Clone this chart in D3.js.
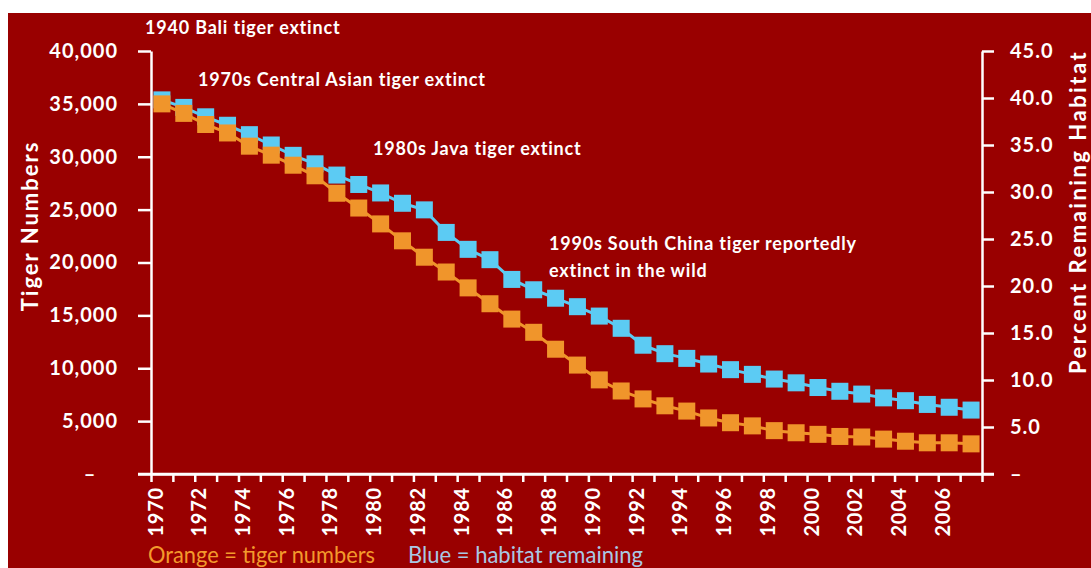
<!DOCTYPE html>
<html>
<head>
<meta charset="utf-8">
<script src="https://cdn.jsdelivr.net/npm/d3@7"></script>
<style>
  html, body { margin: 0; padding: 0; background: #ffffff; }
  svg { display: block; }
  .tick text { font-family: Lato, "Open Sans", sans-serif; font-weight: 700; fill: #ffffff; }
</style>
</head>
<body>
<svg id="chart" width="1091" height="568"></svg>
<script>
// Years on the category axis (one marker per year)
const years = d3.range(1970, 2008);

// Wild tiger numbers (left axis)
const tigerNumbers = [
  35000, 34100, 33050, 32250, 31000, 30150, 29200, 28200, 26550, 25150,
  23650, 22050, 20500, 19100, 17600, 16100, 14650, 13400, 11800, 10300,
  8900, 7850, 7100, 6450, 5950, 5300, 4850, 4550, 4100, 3900,
  3750, 3550, 3500, 3300, 3100, 2950, 2950, 2850
];

// Percent of habitat remaining (right axis)
const habitatRemaining = [
  39.8, 39.0, 38.0, 37.1, 36.1, 35.0, 33.9, 33.0, 31.8, 30.8,
  29.9, 28.8, 28.1, 25.7, 23.9, 22.8, 20.7, 19.6, 18.7, 17.8,
  16.8, 15.5, 13.7, 12.8, 12.3, 11.7, 11.1, 10.6, 10.1, 9.7,
  9.2, 8.8, 8.5, 8.1, 7.8, 7.4, 7.1, 6.8
];

// Tick values
const leftTicks = [0, 5000, 10000, 15000, 20000, 25000, 30000, 35000, 40000];
const rightTicks = [0, 5, 10, 15, 20, 25, 30, 35, 40, 45];
const yearTicks = d3.range(1970, 2009);
const yearLabels = d3.range(1970, 2007, 2);

// Extinction notes
const notes = [
  ["1940 Bali tiger extinct"],
  ["1970s Central Asian tiger extinct"],
  ["1980s Java tiger extinct"],
  ["1990s South China tiger reportedly", "extinct in the wild"]
];
const notePos = [[145, 34], [198, 86], [373, 155], [549, 250]];

const legendItems = ["Orange = tiger numbers", "Blue = habitat remaining"];

const W = 1091, H = 568;
const BG = "#990000", ORANGE = "#f0952b", BLUE = "#5ccbf3";
const FONT = "Lato, sans-serif";
const svg = d3.select("#chart");

// Panel
svg.append("rect").attr("x", 8).attr("y", 13).attr("width", W - 8).attr("height", H - 13).attr("fill", BG);

const x = d3.scaleLinear().domain([1970, 2008]).range([151, 982]);
const yL = d3.scaleLinear().domain([0, 40000]).range([474, 51]);
const yR = d3.scaleLinear().domain([0, 45]).range([474, 51]);

const fmtL = d => d === 0 ? "–" : d3.format(",")(d);
const fmtR = d => d === 0 ? "–" : d3.format(".1f")(d);

// Left axis
const gL = svg.append("g").attr("transform", `translate(${x.range()[0]},0)`)
  .call(d3.axisLeft(yL).tickValues(leftTicks).tickSize(13).tickSizeOuter(0).tickPadding(20).tickFormat(fmtL));
gL.selectAll("text").style("font-size", "20px").style("letter-spacing", "1px");
gL.selectAll(".tick").filter(d => d === 0).select("text").attr("text-anchor", "middle").attr("x", -61);

// Right axis
const gR = svg.append("g").attr("transform", `translate(${x.range()[1]},0)`)
  .call(d3.axisRight(yR).tickValues(rightTicks).tickSize(12).tickSizeOuter(0).tickPadding(16).tickFormat(fmtR));
gR.selectAll("text").style("font-size", "20px").style("letter-spacing", "1px");

// Bottom axis
const gX = svg.append("g").attr("transform", `translate(0,${yL(0)})`)
  .call(d3.axisBottom(x).tickValues(yearTicks).tickSize(8).tickSizeOuter(0)
    .tickFormat(d => yearLabels.includes(d) ? d : ""));
gX.selectAll("text")
  .style("font-size", "20px").style("letter-spacing", "0.8px")
  .attr("transform", "rotate(-90)")
  .attr("text-anchor", "end")
  .attr("x", -13).attr("y", 4).attr("dy", "0.35em");

// Base line joining the two zero ticks
svg.append("line").attr("class", "base")
  .attr("x1", x.range()[0] - 13).attr("x2", x.range()[1] + 12)
  .attr("y1", yL(0)).attr("y2", yL(0))
  .attr("stroke", "#ffffff").attr("stroke-width", 2.5);

[gL, gR, gX].forEach(g => {
  g.selectAll("path, line").attr("stroke", "#ffffff").attr("stroke-width", 2.5);
});

// Series: habitat underneath, tiger numbers on top
const cx = i => x(years[i] + 0.5);
const M = 17;

function drawSeries(values, yScale, color) {
  const g = svg.append("g");
  g.append("path")
    .datum(values)
    .attr("fill", "none").attr("stroke", color).attr("stroke-width", 3)
    .attr("d", d3.line().x((d, i) => cx(i)).y(d => yScale(d)));
  g.selectAll("rect").data(values).join("rect")
    .attr("x", (d, i) => cx(i) - M / 2)
    .attr("y", d => yScale(d) - M / 2)
    .attr("width", M).attr("height", M)
    .attr("fill", color);
}
drawSeries(habitatRemaining, yR, BLUE);
drawSeries(tigerNumbers, yL, ORANGE);

// Axis titles
svg.append("text")
  .attr("transform", "translate(38,226) rotate(-90)")
  .attr("text-anchor", "middle")
  .style("font-family", FONT).style("font-weight", 700).style("font-size", "22px")
  .style("letter-spacing", "2px")
  .attr("fill", "#ffffff").text("Tiger Numbers");
svg.append("text")
  .attr("transform", "translate(1086,212) rotate(-90)")
  .attr("text-anchor", "middle")
  .style("font-family", FONT).style("font-weight", 700).style("font-size", "22px")
  .style("letter-spacing", "2.5px")
  .attr("fill", "#ffffff").text("Percent Remaining Habitat");

// Notes
notes.forEach((lines, k) => {
  const t = svg.append("text")
    .attr("x", notePos[k][0]).attr("y", notePos[k][1])
    .style("font-family", FONT).style("font-weight", 700).style("font-size", "18px")
    .style("letter-spacing", "0.8px")
    .attr("fill", "#ffffff");
  lines.forEach((s, j) => t.append("tspan").attr("x", notePos[k][0]).attr("dy", j ? 27 : 0).text(s));
});

// Legend
const legendX = [148, 408], legendW = [227, 235], legendColors = ["#f39a2c", "#a9c8e4"];
legendItems.forEach((s, k) => {
  svg.append("text").attr("x", legendX[k]).attr("y", 563)
    .style("font-family", FONT)
    .style("font-size", "23px")
    .attr("textLength", legendW[k]).attr("lengthAdjust", "spacingAndGlyphs")
    .attr("fill", legendColors[k]).text(s);
});
</script>
</body>
</html>
